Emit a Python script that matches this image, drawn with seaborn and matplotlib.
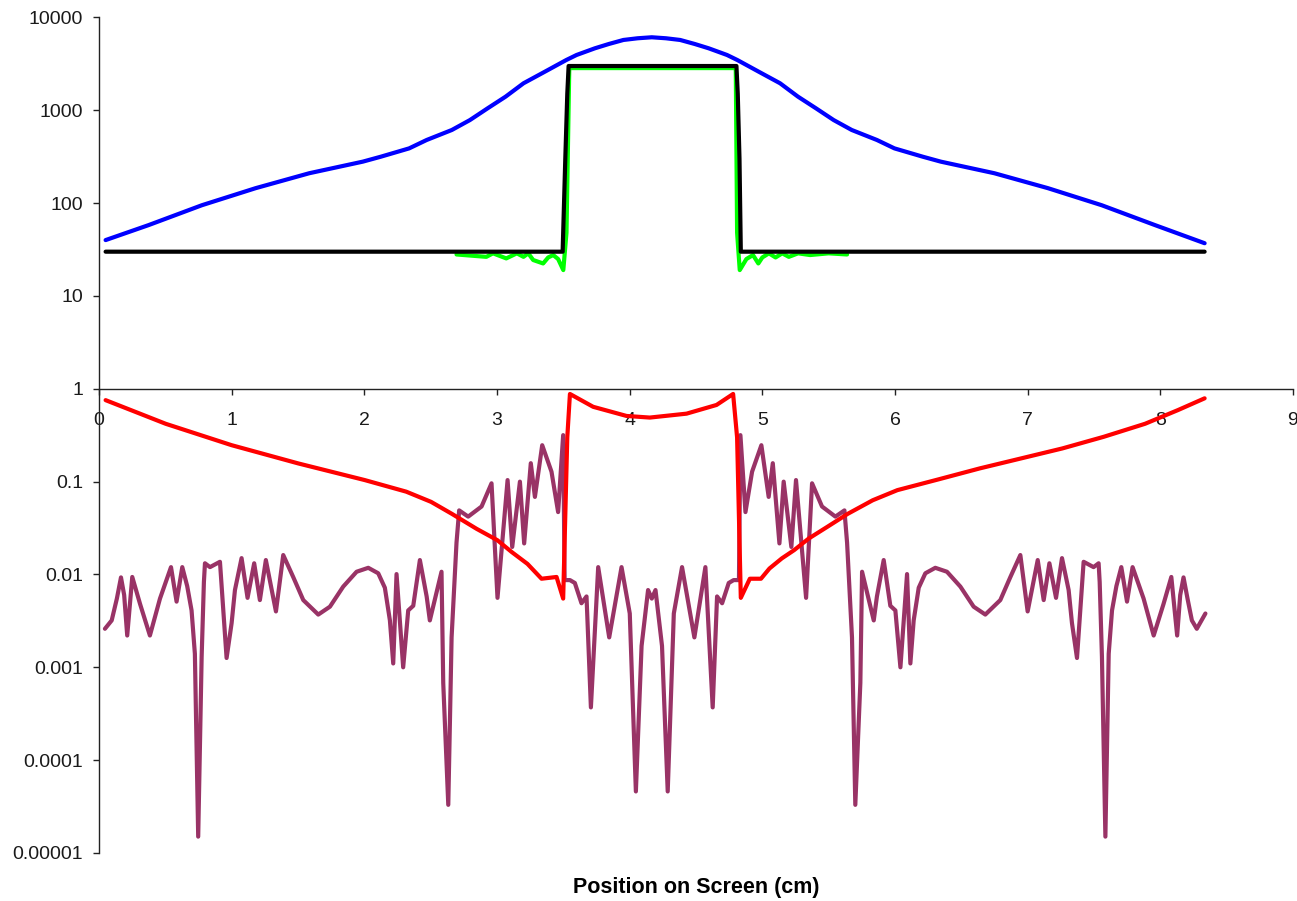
import matplotlib
matplotlib.use("Agg")
import matplotlib.pyplot as plt
import seaborn as sns

# values (x in cm, y on a log scale)
blue_x = [0.05, 0.374, 0.776, 1.181, 1.585, 1.989, 2.123, 2.338, 2.47, 2.66, 2.796, 2.93, 3.065, 3.2,
          3.361, 3.522, 3.6, 3.738, 3.843, 3.953, 4.06, 4.167,
          4.274, 4.381, 4.491, 4.596, 4.734, 4.812, 4.973, 5.134, 5.269, 5.404, 5.538, 5.674, 5.864,
          5.996, 6.211, 6.345, 6.749, 7.153, 7.558, 7.96, 8.334]
blue_y = [40, 58, 95, 145, 210, 280, 316, 389, 479, 614, 785, 1052, 1403, 1955,
          2606, 3480, 3945, 4655, 5180, 5725, 5970, 6120,
          5970, 5725, 5180, 4655, 3945, 3480, 2606, 1955, 1403, 1052, 785, 614, 479,
          389, 316, 280, 210, 145, 95, 58, 37]

black_x = [0.05, 3.495, 3.515, 3.53, 3.54, 4.805, 4.815, 4.828, 4.838, 8.334]
black_y = [30, 30, 300, 1500, 3000, 3000, 1500, 300, 30, 30]

green_x = [2.695, 2.92, 2.97, 3.07, 3.15, 3.2, 3.236, 3.273, 3.348, 3.386, 3.424, 3.461, 3.5,
           3.524, 3.545, 4.80, 4.81, 4.83, 4.88, 4.93, 4.97, 5.0, 5.05, 5.1, 5.15, 5.2, 5.27, 5.36, 5.5, 5.639]
green_y = [28, 26.4, 28.8, 25.4, 28.8, 26.4, 28.8, 24.4, 22.4, 26, 27.6, 25, 19,
           48, 2850, 2850, 48, 19, 25, 27.6, 22.4, 26, 28.8, 26, 28.8, 26.4, 28.8, 27.6, 28.8, 28]

red_x = [0.05, 0.503, 1.0, 1.503, 2.003, 2.316, 2.503, 2.66, 2.847, 3.003, 3.11, 3.23, 3.336, 3.449,
         3.499, 3.53, 3.55, 3.725, 3.977, 4.152, 4.429, 4.655, 4.78, 4.81, 4.838, 4.906, 4.99,
         5.054, 5.147, 5.24, 5.35, 5.49, 5.644, 5.832, 6.018, 6.33, 6.64, 6.951, 7.262, 7.573,
         7.885, 8.133, 8.334]
red_y = [0.755, 0.42, 0.247, 0.157, 0.104, 0.078, 0.0606, 0.045, 0.031, 0.0234, 0.0175, 0.013, 0.009, 0.0094,
         0.0055, 0.3, 0.88, 0.64, 0.51, 0.49, 0.54, 0.67, 0.88, 0.3, 0.0056, 0.009, 0.009,
         0.0116, 0.0149, 0.0183, 0.0244, 0.0326, 0.045, 0.063, 0.081, 0.106, 0.139, 0.178, 0.228, 0.304,
         0.42, 0.59, 0.79]

purple_x = [0.045, 0.096, 0.135, 0.166, 0.19, 0.213, 0.251, 0.31, 0.384, 0.46, 0.543, 0.585, 0.628,
            0.665, 0.698, 0.723, 0.748, 0.774, 0.791, 0.799, 0.837, 0.912, 0.937, 0.962, 1.0, 1.025,
            1.075, 1.12, 1.17, 1.213, 1.258, 1.334, 1.389, 1.464, 1.54, 1.653, 1.741, 1.841, 1.942,
            2.03, 2.105, 2.155, 2.193, 2.218, 2.243, 2.293, 2.331, 2.369, 2.419, 2.47, 2.494, 2.582,
            2.595, 2.633, 2.658, 2.695, 2.715, 2.783, 2.884, 2.959, 3.004, 3.08, 3.115, 3.173, 3.205,
            3.255, 3.286, 3.341, 3.411, 3.461, 3.499, 3.51, 3.55, 3.587, 3.637, 3.675, 3.708, 3.763,
            3.846, 3.939, 4.001, 4.047, 4.09, 4.139, 4.167,
            4.195, 4.244, 4.287, 4.333, 4.395, 4.488, 4.571, 4.626, 4.659, 4.697, 4.747, 4.784,
            4.824, 4.835, 4.873, 4.923, 4.993, 5.048, 5.079, 5.129, 5.161, 5.219, 5.254, 5.33, 5.375,
            5.45, 5.551, 5.619, 5.639, 5.676, 5.701, 5.739, 5.752, 5.84, 5.864, 5.915, 5.965, 6.003,
            6.041, 6.091, 6.116, 6.141, 6.179, 6.229, 6.304, 6.392, 6.493, 6.593, 6.681, 6.794, 6.87,
            6.945, 7.0, 7.076, 7.121, 7.164, 7.214, 7.259, 7.309, 7.334, 7.372, 7.397, 7.422, 7.497,
            7.535, 7.543, 7.56, 7.586, 7.611, 7.636, 7.669, 7.706, 7.749, 7.791, 7.874, 7.95, 8.024,
            8.083, 8.127, 8.15, 8.175, 8.205, 8.238, 8.275, 8.34]
purple_y = [0.0026, 0.0032, 0.0055, 0.0093, 0.006, 0.0022, 0.0094, 0.0048, 0.0022, 0.0055, 0.012, 0.0051, 0.012,
            0.0075, 0.0041, 0.0014, 1.5e-5, 0.0013, 0.0083, 0.0132, 0.012, 0.0137, 0.0041, 0.00126, 0.003, 0.0068,
            0.015, 0.0056, 0.0132, 0.0053, 0.0143, 0.004, 0.0162, 0.0094, 0.0053, 0.0037, 0.0045, 0.0074, 0.0107,
            0.0118, 0.0103, 0.0072, 0.0032, 0.0011, 0.0101, 0.001, 0.0041, 0.0046, 0.0143, 0.0058, 0.0032, 0.0107,
            0.00068, 3.3e-5, 0.0021, 0.022, 0.049, 0.042, 0.054, 0.096, 0.0056, 0.104, 0.0198, 0.1, 0.0216,
            0.158, 0.0685, 0.247, 0.128, 0.047, 0.317, 0.0087, 0.0087, 0.0081, 0.0049, 0.0058, 0.00037, 0.012,
            0.0021, 0.012, 0.0038, 4.6e-5, 0.0017, 0.0068, 0.0055,
            0.0068, 0.0017, 4.6e-5, 0.0038, 0.012, 0.0021, 0.012, 0.00037, 0.0058, 0.0049, 0.0081, 0.0087,
            0.0087, 0.317, 0.047, 0.128, 0.247, 0.0685, 0.158, 0.0216, 0.1, 0.0198, 0.104, 0.0056, 0.096,
            0.054, 0.042, 0.049, 0.022, 0.0021, 3.3e-5, 0.00068, 0.0107, 0.0032, 0.0058, 0.0143, 0.0046, 0.0041,
            0.001, 0.0101, 0.0011, 0.0032, 0.0072, 0.0103, 0.0118, 0.0107, 0.0074, 0.0045, 0.0037, 0.0053, 0.0094,
            0.0162, 0.004, 0.0143, 0.0053, 0.0132, 0.0056, 0.015, 0.0068, 0.003, 0.00126, 0.0041, 0.0137, 0.012,
            0.0132, 0.0083, 0.0013, 1.5e-5, 0.0014, 0.0041, 0.0075, 0.012, 0.0051, 0.012, 0.0055, 0.0022, 0.0048,
            0.0094, 0.0022, 0.006, 0.0093, 0.0055, 0.0032, 0.0026, 0.0038]

y_ticks = [1e-5, 1e-4, 1e-3, 1e-2, 1e-1, 1, 10, 100, 1000, 10000]
y_tick_labels = ["0.00001", "0.0001", "0.001", "0.01", "0.1", "1", "10", "100", "1000", "10000"]
x_ticks = [0, 1, 2, 3, 4, 5, 6, 7, 8, 9]

sns.set_theme(style="white")
plt.rcParams["font.family"] = ["Liberation Sans", "DejaVu Sans"]

fig = plt.figure(figsize=(12.97, 9.01), dpi=100)
ax = fig.add_axes([0.0763, 0.0533, 0.9206, 0.9273])
ax.set(yscale="log")

lw = 3.0
sns.lineplot(ax=ax, x=purple_x, y=purple_y, color="#993366", lw=lw, sort=False, estimator=None)
sns.lineplot(ax=ax, x=red_x, y=red_y, color="#ff0000", lw=lw, sort=False, estimator=None)
sns.lineplot(ax=ax, x=blue_x, y=blue_y, color="#0000ff", lw=lw, sort=False, estimator=None)
sns.lineplot(ax=ax, x=green_x, y=green_y, color="#00ff00", lw=lw, sort=False, estimator=None)
sns.lineplot(ax=ax, x=black_x, y=black_y, color="#000000", lw=lw, sort=False, estimator=None)

ax.set_xlim(0, 9)
ax.set_ylim(1e-5, 1e4)
ax.set_yticks(y_ticks)
ax.set_yticklabels(y_tick_labels)
ax.minorticks_off()
ax.set_xticks(x_ticks)
ax.set_xticklabels([str(t) for t in x_ticks])

for s in ["top", "right"]:
    ax.spines[s].set_visible(False)
ax.spines["bottom"].set_position(("data", 1))
for s in ["left", "bottom"]:
    ax.spines[s].set_color("#222222")
    ax.spines[s].set_linewidth(1.0)

ax.tick_params(axis="y", direction="out", length=4.5, width=1, color="#222222",
               labelsize=14, pad=7, left=True, labelcolor="#1a1a1a")
ax.tick_params(axis="x", direction="out", length=4.5, width=1, color="#222222",
               labelsize=14, pad=12, bottom=True, labelcolor="#1a1a1a")
ax.grid(False)

ax.set_xlabel("Position on Screen (cm)", fontsize=15.5, fontweight="bold", color="black")
ax.xaxis.set_label_coords(0.5, -0.029)
ax.set_ylabel("")

fig.savefig("out.png", dpi=100)
